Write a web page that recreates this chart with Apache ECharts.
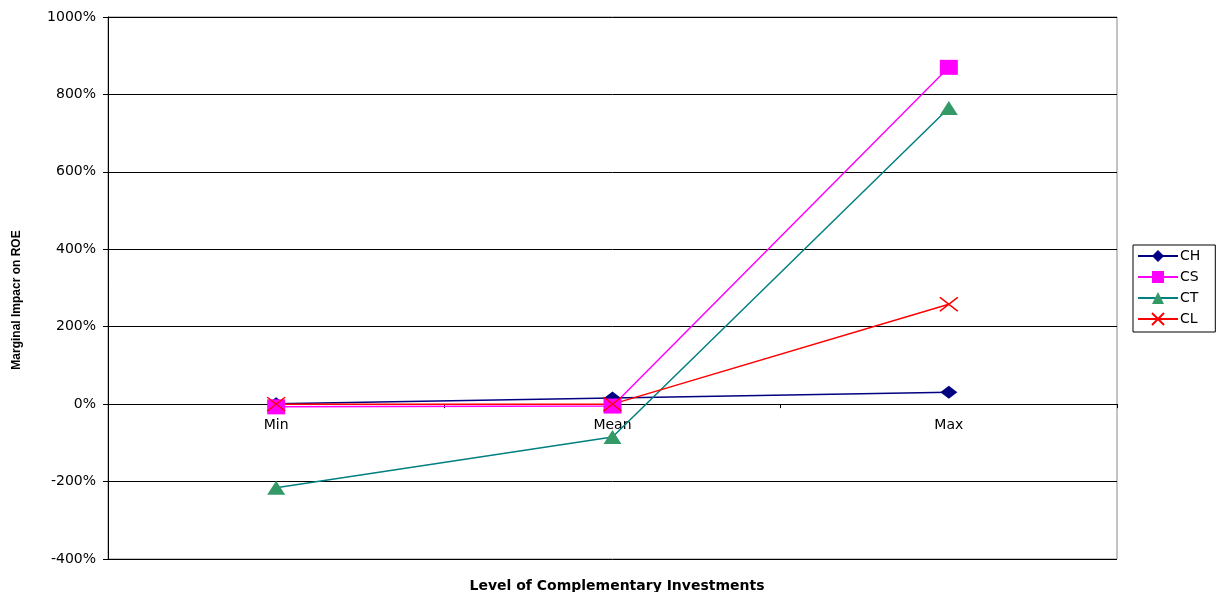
<!DOCTYPE html>
<html>
<head>
<meta charset="utf-8">
<script src="https://cdn.jsdelivr.net/npm/echarts@6/dist/echarts.min.js"></script>
<style>
  html, body { margin: 0; padding: 0; background: #fff; }
  #chart { width: 1220px; height: 592px; }
</style>
</head>
<body>
<div id="chart"></div>
<script>
// Levels of complementary investment along the x axis
const categories = ['Min', 'Mean', 'Max'];

// Marginal impact on ROE (%) for each investment type
const seriesCH = [1, 16, 31];
const seriesCS = [-7, -5, 870];
const seriesCT = [-216, -85, 765];
const seriesCL = [0, 0, 258];

// Y axis range and step (%)
const yMin = -400;
const yMax = 1000;
const yStep = 200;

const FONT = 'DejaVu Sans, Verdana, sans-serif';
const crossPath = 'path://M0,0L10,10M10,0L0,10';

// plot rectangle
const gridLeft = 108, gridTop = 17, gridRight = 103, gridBottom = 33;
const chartH = 592;
const plotH = chartH - gridTop - gridBottom;
// shift the category axis up from the bottom edge to the 0% line
const zeroOffset = -plotH * (0 - yMin) / (yMax - yMin);

const chart = echarts.init(document.getElementById('chart'), null, { renderer: 'canvas' });

function lineSeries(name, data, lineColor, markColor, symbol, size, extra) {
  return Object.assign({
    name: name,
    type: 'line',
    data: data,
    symbol: symbol,
    symbolSize: size,
    showAllSymbol: true,
    animation: false,
    lineStyle: { color: lineColor, width: 1.5 },
    itemStyle: { color: markColor, opacity: 1 },
    emphasis: { disabled: true }
  }, extra || {});
}

chart.setOption({
  backgroundColor: '#ffffff',
  textStyle: { fontFamily: FONT },
  grid: {
    left: gridLeft, right: gridRight, top: gridTop, bottom: gridBottom,
    show: true, borderColor: '#888888', borderWidth: 1
  },
  title: {
    text: 'Level of Complementary Investments',
    left: 612, top: 574,
    textAlign: 'center',
    textStyle: { fontSize: 14, fontWeight: 'bold', color: '#000', fontFamily: FONT }
  },
  graphic: [{
    type: 'text',
    x: 17, y: 300,
    rotation: Math.PI / 2,
    style: {
      text: 'Marginal Impacr on ROE',
      font: 'bold 12px Liberation Sans, Arial, sans-serif',
      fill: '#000',
      align: 'center',
      verticalAlign: 'middle'
    }
  }],
  legend: {
    orient: 'vertical',
    left: 1133, top: 245,
    padding: [4, 15, 6, 4],
    itemGap: 7,
    itemWidth: 40, itemHeight: 15,
    borderColor: '#000', borderWidth: 1,
    textStyle: { fontSize: 14, color: '#000', fontFamily: FONT, padding: [0, 0, 0, -3] },
    data: ['CH', 'CS', 'CT', 'CL']
  },
  xAxis: {
    type: 'category',
    data: categories,
    boundaryGap: true,
    offset: zeroOffset,
    axisLine: { onZero: false, lineStyle: { color: '#000', width: 1 } },
    axisTick: { show: true, length: 4, lineStyle: { color: '#000' } },
    axisLabel: { fontSize: 14, color: '#000', margin: 14, fontFamily: FONT },
    splitLine: { show: false }
  },
  yAxis: {
    type: 'value',
    min: yMin, max: yMax, interval: yStep,
    axisLine: { show: true, onZero: false, lineStyle: { color: '#000' } },
    axisTick: { show: true, length: 5, lineStyle: { color: '#000' } },
    axisLabel: {
      fontSize: 14, color: '#000', margin: 12, fontFamily: FONT,
      formatter: function (v) { return v + '%'; }
    },
    splitLine: { show: true, lineStyle: { color: '#000', width: 1 } }
  },
  series: [
    lineSeries('CH', seriesCH, '#000080', '#000080', 'diamond', [17, 13]),
    lineSeries('CS', seriesCS, '#FF00FF', '#FF00FF', 'rect', [18, 15]),
    lineSeries('CT', seriesCT, '#008080', '#339966', 'triangle', [18, 14]),
    lineSeries('CL', seriesCL, '#FF0000', '#FF0000', crossPath, [18, 14], {
      itemStyle: { color: '#FF0000', borderColor: '#FF0000', borderWidth: 1.5, opacity: 1 }
    })
  ]
});
</script>
</body>
</html>
